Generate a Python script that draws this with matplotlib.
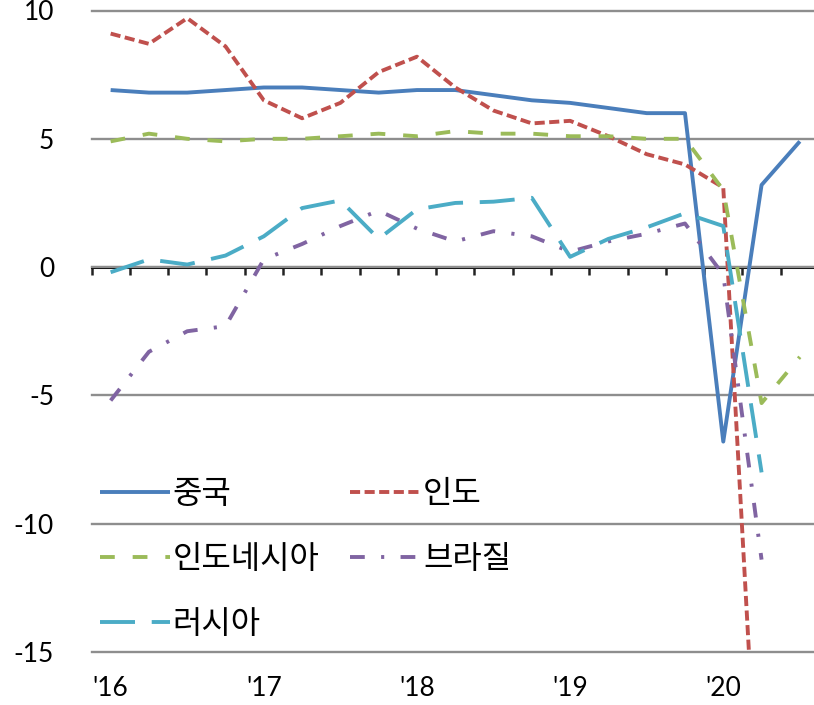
import matplotlib
matplotlib.use("Agg")
import matplotlib.pyplot as plt
import numpy as np

plt.rcParams['font.family'] = ['Lato', 'Noto Sans CJK KR', 'DejaVu Sans']

# ---- data (quarterly real GDP growth, % y/y) ----
quarters = ["2016Q1", "2016Q2", "2016Q3", "2016Q4",
            "2017Q1", "2017Q2", "2017Q3", "2017Q4",
            "2018Q1", "2018Q2", "2018Q3", "2018Q4",
            "2019Q1", "2019Q2", "2019Q3", "2019Q4",
            "2020Q1", "2020Q2", "2020Q3"]
year_labels = ["'16", "'17", "'18", "'19", "'20"]

china = [6.9, 6.8, 6.8, 6.9, 7.0, 7.0, 6.9, 6.8, 6.9, 6.9, 6.7, 6.5,
         6.4, 6.2, 6.0, 6.0, -6.8, 3.2, 4.9]
india = [9.1, 8.7, 9.7, 8.6, 6.5, 5.8, 6.4, 7.6, 8.2, 7.0, 6.1, 5.6,
         5.7, 5.1, 4.4, 4.0, 3.1, -23.9]
indonesia = [4.9, 5.2, 5.0, 4.9, 5.0, 5.0, 5.1, 5.2, 5.1, 5.3, 5.2, 5.2,
             5.1, 5.1, 5.0, 5.0, 3.0, -5.3, -3.5]
brazil = [-5.2, -3.3, -2.5, -2.3, 0.3, 0.9, 1.6, 2.2, 1.5, 1.0, 1.4, 1.2,
          0.6, 1.0, 1.3, 1.7, -0.3, -11.4]
russia = [-0.2, 0.3, 0.1, 0.45, 1.2, 2.3, 2.6, 1.1, 2.25, 2.5, 2.55, 2.7,
          0.4, 1.1, 1.55, 2.1, 1.6, -8.0]

names = ["중국", "인도", "인도네시아", "브라질", "러시아"]
yticks = [-15, -10, -5, 0, 5, 10]
ytick_labels = ["-15", "-10", "-5", "0", "5", "10"]

# ---- figure ----
W, H = 814, 705
fig = plt.figure(figsize=(W / 100, H / 100), dpi=100)
ax = fig.add_axes([91.5 / W, (H - 652) / H, (819 - 91.5) / W, (652 - 10.5) / H])

x = np.arange(len(quarters))
lw = 2.8
series = [
    (china, "#4A7EBB", "-"),
    (india, "#C0504D", (0, (2.6, 1.15))),
    (indonesia, "#9BBB59", (0, (3.8, 4.6))),
    (brazil, "#8064A2", (0, (3.8, 4.2, 0.8, 4.2))),
    (russia, "#4BACC6", (0, (9, 4.3))),
]
handles = []
for (vals, col, ls), name in zip(series, names):
    h, = ax.plot(x[:len(vals)], vals, color=col, lw=lw, linestyle=ls,
                 label=name, zorder=3, solid_capstyle='butt')
    handles.append(h)

ax.set_xlim(-0.5, len(quarters) - 0.5)
ax.set_ylim(-15, 10)

# y axis
ax.set_yticks(yticks)
ax.set_yticklabels(ytick_labels)
ax.tick_params(axis='y', length=0, pad=27, labelsize=19)
ax.yaxis.grid(True, color='#8E8E8E', lw=1.7, zorder=1)
for gl in ax.get_ygridlines():
    gl.set_clip_on(False)
ax.set_axisbelow(True)

for s in ax.spines.values():
    s.set_visible(False)

# x labels at bottom (first quarter of each year)
label_pos = [i for i, q in enumerate(quarters) if q.endswith("Q1")]
ax.set_xticks(label_pos)
ax.set_xticklabels(year_labels)
ax.tick_params(axis='x', length=0, pad=17, labelsize=19)

# zero axis line with category-boundary ticks
zero_frac = (0 - (-15)) / (10 - (-15))
sec = ax.secondary_xaxis(zero_frac)
sec.set_alignment('bottom')
sec.set_xticks(np.arange(-0.5, len(quarters), 1.0))
sec.set_xticklabels([])
sec.tick_params(axis='x', direction='out', length=6, width=1.8, color='#222222')
sec.spines['bottom'].set_linewidth(2.2)
sec.spines['bottom'].set_color('black')
sec.spines['bottom'].set_zorder(2)

# legend (row-major order in the picture)
order = [0, 2, 4, 1, 3]
leg = fig.legend([handles[i] for i in order], [names[i] for i in order],
                 loc='upper left', bbox_to_anchor=(100 / W, 1 - 479 / H),
                 ncol=2, frameon=False, fontsize=23,
                 handlelength=2.2, handletextpad=0.08, columnspacing=0.95,
                 labelspacing=1.1, borderpad=0, borderaxespad=0)

fig.savefig("out.png", dpi=100)
